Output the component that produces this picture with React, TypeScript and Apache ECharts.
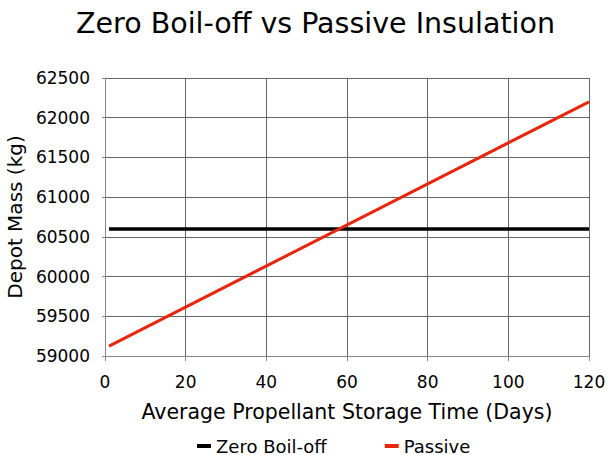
import React, { useEffect, useRef } from "react";
import * as echarts from "echarts";

const zeroBoilOff: [number, number][] = [
  [1, 60600],
  [120, 60600],
];
const passive: [number, number][] = [
  [1, 59125],
  [120, 62200],
];
const seriesNames = ["Zero Boil-off", "Passive"];
const FONT = "DejaVu Sans";

export default function App() {
  const ref = useRef<HTMLDivElement>(null);
  useEffect(() => {
    const chart = echarts.init(ref.current!, null, { renderer: "svg" });
    chart.setOption({
      animation: false,
      backgroundColor: "#ffffff",
      title: {
        text: "Zero Boil-off vs Passive Insulation",
        left: 76,
        top: 9,
        padding: 0,
        textStyle: { fontFamily: FONT, fontSize: 28.5, fontWeight: "normal", color: "#000" },
      },
      legend: {
        top: 437,
        left: 197,
        padding: 0,
        icon: "rect",
        itemWidth: 14,
        itemHeight: 4,
        itemGap: 58,
        textStyle: { fontFamily: FONT, fontSize: 18, color: "#000" },
        data: seriesNames,
      },
      grid: { left: 105, right: 25, top: 78, bottom: 99, outerBoundsMode: "none" },
      xAxis: {
        type: "value",
        min: 0,
        max: 120,
        interval: 20,
        name: "Average Propellant Storage Time (Days)",
        nameLocation: "middle",
        nameGap: 45,
        nameTextStyle: { fontFamily: FONT, fontSize: 20.5, color: "#000" },
        axisLine: { onZero: false, lineStyle: { color: "#888" } },
        axisTick: { show: true, length: 5, lineStyle: { color: "#888" } },
        axisLabel: { fontFamily: FONT, fontSize: 17, color: "#000", margin: 17 },
        splitLine: { show: true, lineStyle: { color: "#666", width: 1 } },
      },
      yAxis: {
        type: "value",
        min: 59000,
        max: 62500,
        interval: 500,
        name: "Depot Mass (kg)",
        nameLocation: "middle",
        nameGap: 73,
        nameTextStyle: { fontFamily: FONT, fontSize: 20, color: "#000" },
        axisLine: { show: true, lineStyle: { color: "#888" } },
        axisTick: { show: true, length: 3, lineStyle: { color: "#888" } },
        axisLabel: {
          fontFamily: FONT,
          fontSize: 17,
          color: "#000",
          margin: 15,
          formatter: (v: number) => String(v),
        },
        splitLine: { show: true, lineStyle: { color: "#666", width: 1 } },
      },
      series: [
        {
          name: seriesNames[0],
          type: "line",
          data: zeroBoilOff,
          symbol: "none",
          lineStyle: { color: "#000", width: 3.5 },
          itemStyle: { color: "#000" },
        },
        {
          name: seriesNames[1],
          type: "line",
          data: passive,
          symbol: "none",
          lineStyle: { color: "#e8260e", width: 3 },
          itemStyle: { color: "#e8260e" },
        },
      ],
    });
    return () => chart.dispose();
  }, []);
  return (
    <div
      ref={ref}
      style={{ position: "fixed", left: 0, top: 0, width: 614, height: 455 }}
    />
  );
}
